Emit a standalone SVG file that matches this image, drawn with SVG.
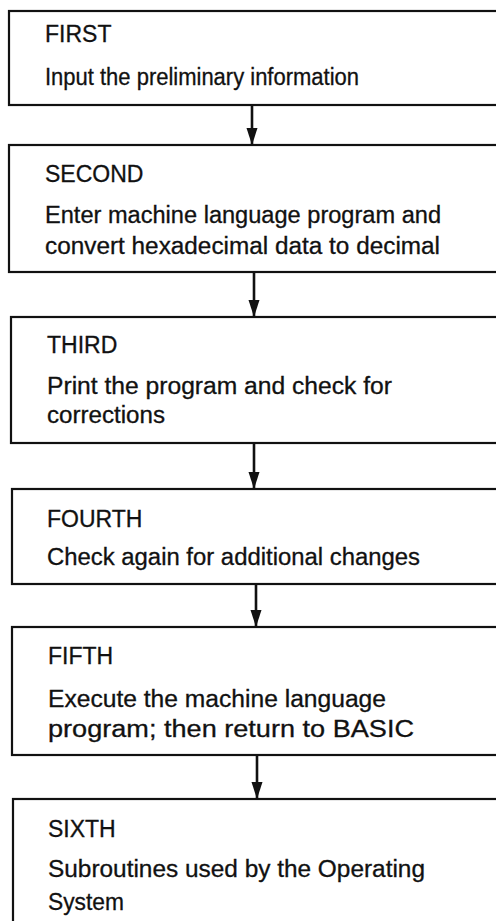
<svg xmlns="http://www.w3.org/2000/svg" width="496" height="921" viewBox="0 0 496 921">
<defs>
<style>
.box{fill:#fff;stroke:#111;stroke-width:2.2}
.t{font-family:"Liberation Sans",Arial,sans-serif;font-size:23px;fill:#111;stroke:#111;stroke-width:0.3}
.c{stroke:#111;stroke-width:2.6;fill:none}
</style>
<marker id="ah" markerUnits="userSpaceOnUse" markerWidth="18" markerHeight="12" refX="16" refY="6" orient="auto">
<path d="M0,0.5 L17,6 L0,11.5 Z" fill="#111"/>
</marker>
</defs>
<rect x="0" y="0" width="496" height="921" fill="#fff"/>
<g id="first">
<rect class="box" x="9" y="11" width="500" height="94"/>
<text class="t" x="45" y="42">FIRST</text>
<text class="t" x="45" y="85" textLength="314" lengthAdjust="spacingAndGlyphs">Input the preliminary information</text>
</g>
<g id="second">
<rect class="box" x="9" y="145" width="500" height="127"/>
<text class="t" x="45" y="182">SECOND</text>
<text class="t" x="45" y="223" textLength="396" lengthAdjust="spacingAndGlyphs">Enter machine language program and</text>
<text class="t" x="45" y="254" textLength="395" lengthAdjust="spacingAndGlyphs">convert hexadecimal data to decimal</text>
</g>
<g id="third">
<rect class="box" x="11" y="317" width="500" height="126"/>
<text class="t" x="47" y="353">THIRD</text>
<text class="t" x="47" y="394" textLength="345" lengthAdjust="spacingAndGlyphs">Print the program and check for</text>
<text class="t" x="47" y="423" textLength="118" lengthAdjust="spacingAndGlyphs">corrections</text>
</g>
<g id="fourth">
<rect class="box" x="12" y="489" width="500" height="95"/>
<text class="t" x="47" y="527">FOURTH</text>
<text class="t" x="47" y="565" textLength="373" lengthAdjust="spacingAndGlyphs">Check again for additional changes</text>
</g>
<g id="fifth">
<rect class="box" x="12" y="627" width="500" height="128"/>
<text class="t" x="48" y="664">FIFTH</text>
<text class="t" x="48" y="707" textLength="338" lengthAdjust="spacingAndGlyphs">Execute the machine language</text>
<text class="t" x="48" y="737" textLength="366" lengthAdjust="spacingAndGlyphs">program; then return to BASIC</text>
</g>
<g id="sixth">
<rect class="box" x="13" y="799" width="500" height="140"/>
<text class="t" x="48" y="837">SIXTH</text>
<text class="t" x="48" y="877" textLength="377" lengthAdjust="spacingAndGlyphs">Subroutines used by the Operating</text>
<text class="t" x="48" y="910" textLength="76" lengthAdjust="spacingAndGlyphs">System</text>
</g>
<g id="connectors">
<path class="c" d="M252,105 L252,144" marker-end="url(#ah)"/>
<path class="c" d="M254,273 L254,316" marker-end="url(#ah)"/>
<path class="c" d="M254,444 L254,488" marker-end="url(#ah)"/>
<path class="c" d="M256,585 L256,626" marker-end="url(#ah)"/>
<path class="c" d="M257,756 L257,798" marker-end="url(#ah)"/>
</g>
</svg>
